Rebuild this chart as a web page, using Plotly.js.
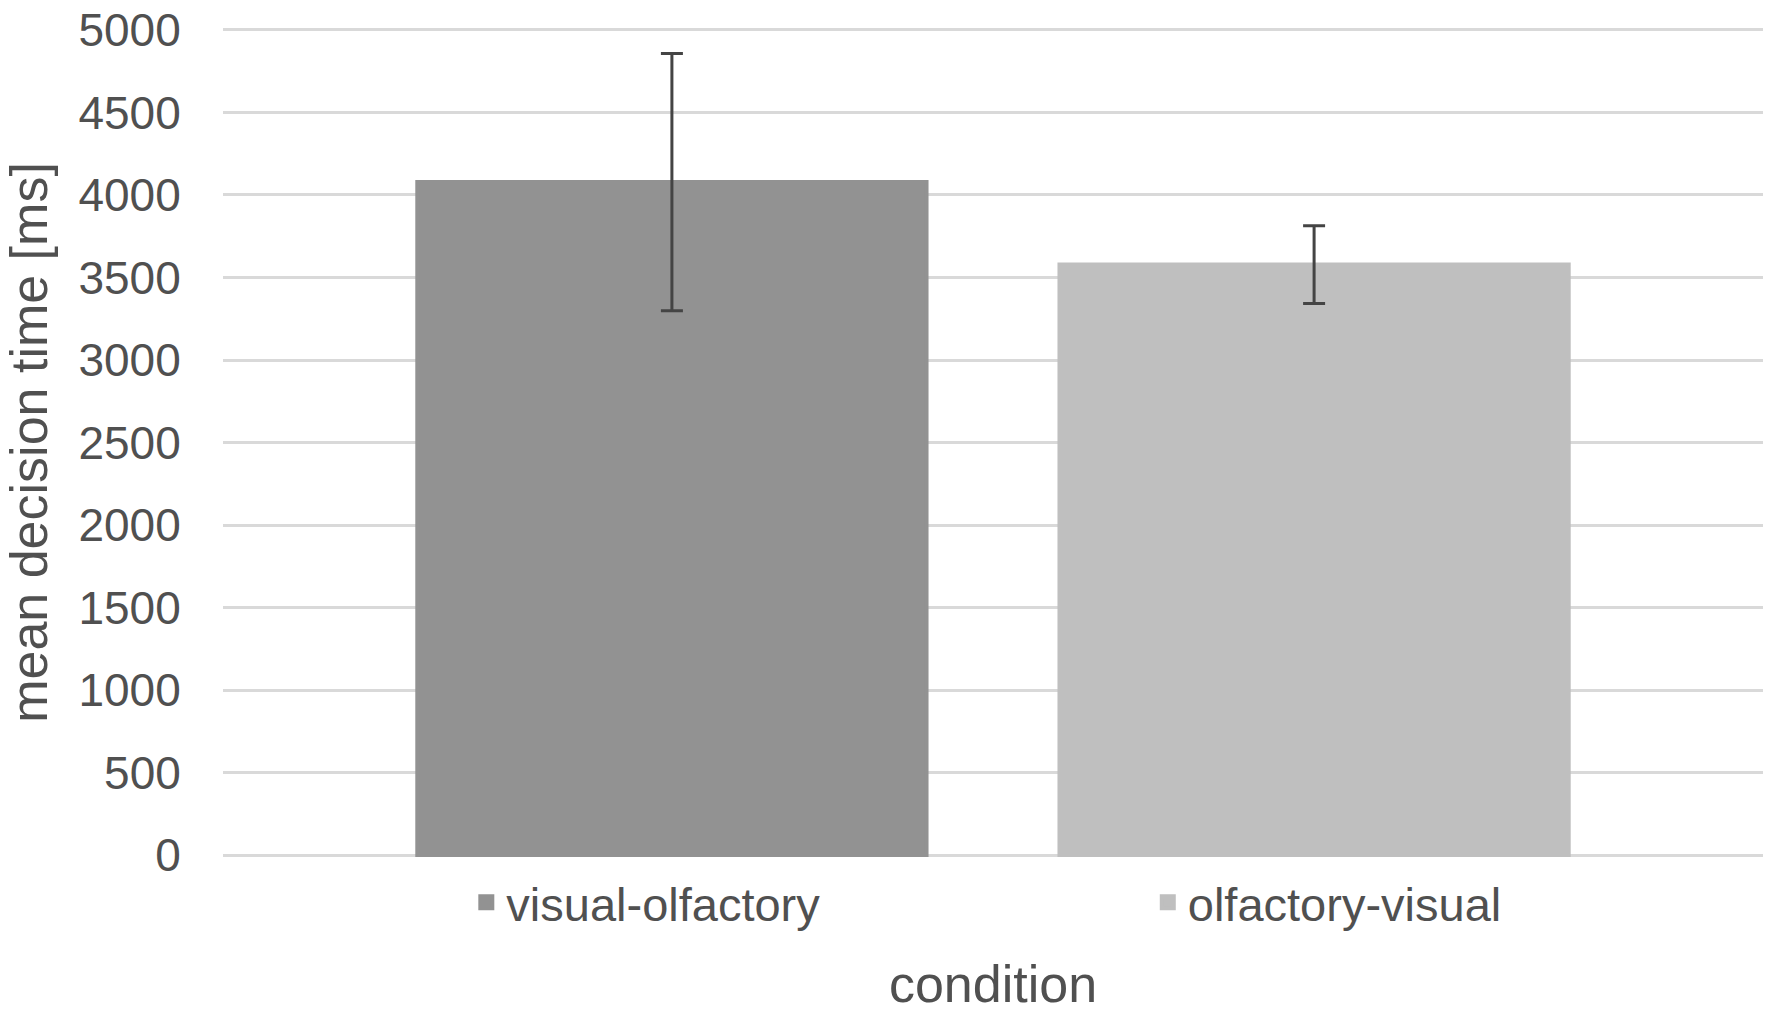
<!DOCTYPE html>
<html>
<head>
<meta charset="utf-8">
<script src="https://cdn.plot.ly/plotly-3.0.1.min.js"></script>
<style>
  body { margin: 0; background: #fff; }
  #chart { width: 1772px; height: 1013px; }
</style>
</head>
<body>
<div id="chart"></div>
<script>
// mean decision time per condition, with error bars
let conditions = ['visual-olfactory', 'olfactory-visual'];
let meanTimes = [4078, 3578];
let errTimes = [780, 236];
let barColors = ['#929292', '#bfbfbf'];
let yTicks = [0, 500, 1000, 1500, 2000, 2500, 3000, 3500, 4000, 4500, 5000];

let textColor = '#505050';
let legendIds = ['legend', 'legend2'];

let traces = conditions.map(function(name, i) {
    return {
        type: 'bar',
        name: name,
        legend: legendIds[i],
        x: ['condition'],
        y: [meanTimes[i]],
        // outline in the same colour, so the legend square gets bigger
        marker: {color: barColors[i], line: {color: barColors[i], width: 4}},
        error_y: {type: 'data', array: [errTimes[i]], visible: true,
                  color: '#444444', thickness: 3, width: 11},
        hoverinfo: 'name+y'
    };
});

// one legend per bar, each sitting under its own bar
function legendAt(xpos) {
    return {
        orientation: 'h',
        x: xpos, xanchor: 'left',
        y: -0.01, yanchor: 'top',
        font: {size: 47, color: textColor},
        bgcolor: 'rgba(0,0,0,0)'
    };
}

let layout = {
    width: 1772,
    height: 1013,
    margin: {l: 223, r: 9, t: 28, b: 156},
    paper_bgcolor: '#ffffff',
    plot_bgcolor: '#ffffff',
    font: {family: 'Liberation Sans, Arial, sans-serif', color: textColor, size: 46},
    barmode: 'group',
    bargap: 0.166,
    bargroupgap: 0.207,
    showlegend: true,
    legend: legendAt(0.158),
    legend2: legendAt(0.6005),
    xaxis: {
        type: 'category',
        showticklabels: false,
        showgrid: false,
        zeroline: false,
        showline: false,
        title: {text: 'condition', font: {size: 52, color: textColor}, standoff: 122}
    },
    yaxis: {
        range: [-12, 5012],
        tickvals: yTicks,
        ticktext: yTicks.map(String),
        showgrid: true,
        gridcolor: '#d9d9d9',
        gridwidth: 3,
        zeroline: false,
        showline: false,
        ticks: 'outside',
        ticklen: 32,
        tickcolor: 'rgba(0,0,0,0)',
        tickfont: {size: 46, color: textColor},
        title: {text: 'mean decision time [ms]', font: {size: 52, color: textColor}, standoff: 14}
    }
};

Plotly.newPlot('chart', traces, layout, {displayModeBar: false, responsive: false});
</script>
</body>
</html>
